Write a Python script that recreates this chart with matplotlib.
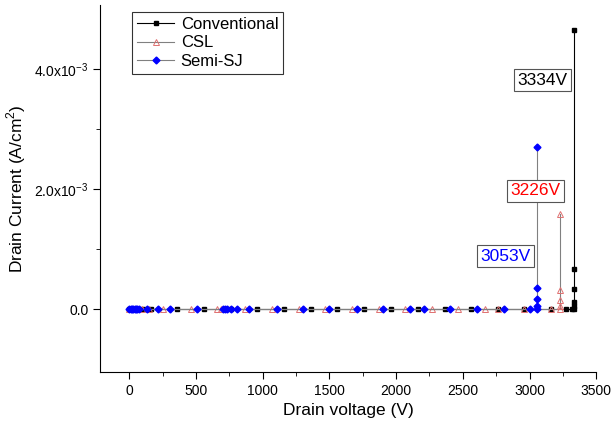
import matplotlib
matplotlib.use("Agg")
import matplotlib.pyplot as plt
from matplotlib.ticker import MultipleLocator, FixedLocator

plt.rcParams['font.family'] = ['Liberation Sans', 'DejaVu Sans']
plt.rcParams['mathtext.fontset'] = 'custom'
plt.rcParams['mathtext.rm'] = 'Liberation Sans'

# ---- data (V, A/cm^2) ----
conv_v = [0, 10, 50, 100, 160, 360, 560, 760, 960, 1160, 1360, 1560, 1760,
          1965, 2165, 2365, 2565, 2765, 2960, 3160, 3270, 3320,
          3334, 3334, 3334, 3334, 3334, 3334]
conv_i = [0] * 22 + [0.0, 0.05e-3, 0.12e-3, 0.33e-3, 0.67e-3, 4.65e-3]

csl_v = [0, 20, 98, 150, 255, 458, 660, 684, 870, 1070, 1270, 1470, 1670,
         1870, 2065, 2268, 2465, 2668, 2765, 2961, 3164,
         3226, 3226, 3226, 3226, 3226]
csl_i = [0] * 21 + [0.0, 0.05e-3, 0.15e-3, 0.31e-3, 1.59e-3]

ssj_v = [0, 10, 20, 30, 40, 50, 60, 70, 135, 218, 308, 510, 705, 720, 735,
         760, 810, 900, 1105, 1300, 1500, 1705, 1900, 2105, 2208, 2405,
         2607, 2810, 3006,
         3053, 3053, 3053, 3053, 3053]
ssj_i = [0] * 29 + [0.0, 0.05e-3, 0.17e-3, 0.35e-3, 2.7e-3]

labels = ["Conventional", "CSL", "Semi-SJ"]
bv_text = ["3334V", "3226V", "3053V"]
bv_pos = [(3097, 3.82e-3), (3048, 1.97e-3), (2822, 0.88e-3)]
bv_color = ["black", "red", "blue"]

fig = plt.figure(figsize=(6.14, 4.32), dpi=100)
ax = fig.add_axes([0.163, 0.139, 0.808, 0.849])

ax.plot(conv_v, conv_i, color="black", lw=0.8, marker="s", ms=3,
        mfc="black", mec="black", label=labels[0])
ax.plot(csl_v, csl_i, color="#808080", lw=0.8, marker="^", ms=5,
        mfc="none", mec="#e07070", mew=0.7, label=labels[1])
ax.plot(ssj_v, ssj_i, color="#808080", lw=0.8, marker="D", ms=3.5,
        mfc="blue", mec="blue", label=labels[2])

for txt, (x, y), c in zip(bv_text, bv_pos, bv_color):
    ax.text(x, y, txt, color=c, fontsize=12.5, ha="center", va="center",
            bbox=dict(boxstyle="square,pad=0.2", fc="white", ec="#555555", lw=0.8))

ax.set_xlim(-220, 3500)
ax.set_ylim(-1.05e-3, 5.07e-3)
ax.xaxis.set_major_locator(MultipleLocator(500))
ax.xaxis.set_minor_locator(MultipleLocator(250))
ax.yaxis.set_major_locator(FixedLocator([0, 2e-3, 4e-3]))
ax.yaxis.set_minor_locator(FixedLocator([1e-3, 3e-3]))
ax.set_yticklabels(["0.0", r"2.0x10$^{\mathregular{-3}}$", r"4.0x10$^{\mathregular{-3}}$"])

for s in ["top", "right"]:
    ax.spines[s].set_visible(False)
ax.tick_params(direction="out", which="major", length=5, labelsize=10)
ax.tick_params(direction="out", which="minor", length=3)

ax.set_xlabel("Drain voltage (V)", fontsize=12.5)
ax.set_ylabel(r"Drain Current (A/cm$^{\mathregular{2}}$)", fontsize=12.5)

leg = ax.legend(loc="upper left", bbox_to_anchor=(0.065, 0.981), fontsize=12,
                frameon=True, fancybox=False, edgecolor="black",
                handlelength=2.2, borderpad=0.3, labelspacing=0.2,
                handletextpad=0.4, borderaxespad=0)
leg.get_frame().set_linewidth(0.8)

fig.savefig("out.png", dpi=100)
